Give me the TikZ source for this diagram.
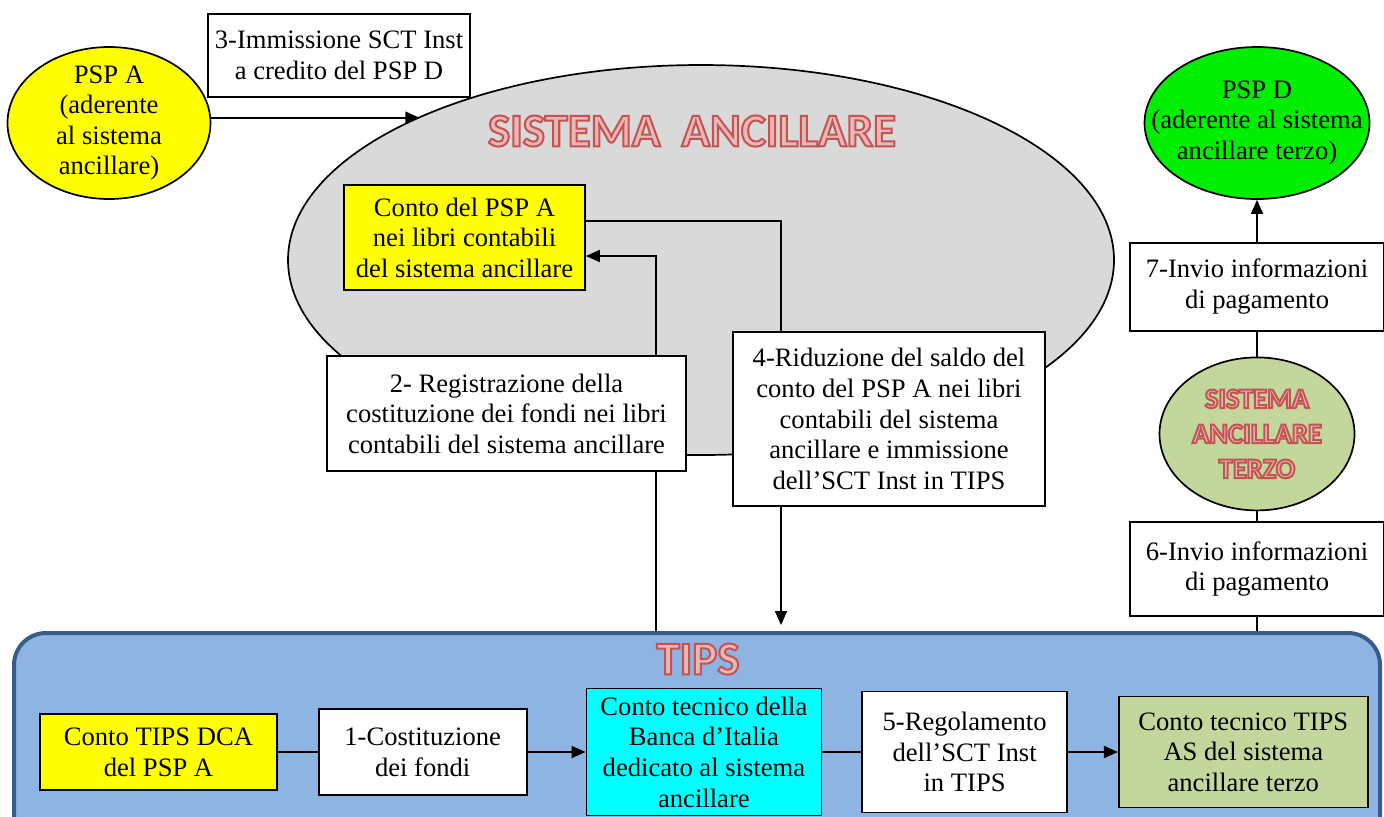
\documentclass[tikz,border=0pt]{standalone}
\usepackage{fontspec}
\setmainfont{Liberation Serif}
\newfontfamily\titlefont{Carlito}
\usepackage{tikz}
\usetikzlibrary{arrows.meta, positioning, shapes.geometric}
\definecolor{ancgray}{RGB}{217, 217, 217}
\definecolor{pspyellow}{RGB}{255, 255, 0}
\definecolor{pspgreen}{RGB}{0, 238, 0}
\definecolor{olive}{RGB}{195, 214, 155}
\definecolor{aqua}{RGB}{0, 255, 255}
\definecolor{tipsblue}{RGB}{142, 180, 227}
\definecolor{tipsedge}{RGB}{56, 93, 138}
\definecolor{titlepink}{RGB}{235, 182, 182}
\newcommand{\hollow}[1]{\special{pdf:code 2 Tr 0.76 0.33 0.32 RG 1 w}#1\special{pdf:code 0 Tr 0 0 0 RG}}

\begin{document}
\begin{tikzpicture}[
                x = 0.5pt, y = -0.5pt, % pixel grid
                > = {Triangle[length=7pt, width=6pt]}, % arrow head style
                node distance = 20pt,
                line width = 0.85pt,
                font = \fontsize{13.3}{15.3}\selectfont
                ]
                \tikzstyle{box}=[draw, fill=white, align=center, inner sep=1pt]
                \tikzstyle{oval}=[draw, ellipse, align=center, inner sep=0pt]
                \tikzstyle{title}=[align=center, text=titlepink,
                    font=\titlefont\bfseries\fontsize{23.5}{25}\selectfont]

                \useasboundingbox (0,0) rectangle (1384,816);

                % sistema ancillare
                \node[oval, fill=ancgray, minimum width=413pt, minimum height=195pt] (anc) at (701,260) {};
                \node[oval, fill=pspyellow, minimum width=101.5pt, minimum height=76pt,
                    inner ysep=-2.5pt] (pspa) at (109,123) {PSP A\\(aderente\\al sistema\\ancillare)};
                \node[box, minimum width=131pt, minimum height=41.5pt] (box3) at (339,55.5)
                    {3-Immissione SCT Inst\\a credito del PSP D};
                \node[box, fill=pspyellow, minimum width=120.5pt, minimum height=52.5pt] (acct) at (464.5,237.5)
                    {Conto del PSP A\\nei libri contabili\\del sistema ancillare};
                \node[box, minimum width=179.5pt, minimum height=57.5pt] (box2) at (506.5,413.5)
                    {2- Registrazione della\\costituzione dei fondi nei libri\\contabili del sistema ancillare};
                \node[box, minimum width=156pt, minimum height=87pt] (box4) at (889,419)
                    {4-Riduzione del saldo del\\conto del PSP A nei libri\\contabili del sistema\\ancillare e immissione\\dell'SCT Inst in TIPS};

                % TIPS
                \node[draw=tipsedge, fill=tipsblue, line width=2pt, rounded corners=16pt,
                    minimum width=683pt, minimum height=110pt] (tips) at (697,743) {};
                \node[box, fill=pspyellow, minimum width=118.5pt, minimum height=38pt] (dca) at (158.5,752)
                    {Conto TIPS DCA\\del PSP A};
                \node[box, minimum width=104pt, minimum height=43pt, right=20pt of dca] (cost)
                    {1-Costituzione\\dei fondi};
                \node[box, fill=aqua, minimum width=117.5pt, minimum height=63.5pt, right=29pt of cost] (tecn)
                    {Conto tecnico della\\Banca d'Italia\\dedicato al sistema\\ancillare};
                \node[box, minimum width=102.5pt, minimum height=60.5pt, right=19.5pt of tecn] (regol)
                    {5-Regolamento\\dell'SCT Inst\\in TIPS};
                \node[box, fill=olive, minimum width=124.5pt, minimum height=55.5pt, right=25pt of regol] (tecas)
                    {Conto tecnico TIPS\\AS del sistema\\ancillare terzo};

                % sistema ancillare terzo
                \node[oval, fill=pspgreen, minimum width=112.5pt, minimum height=76pt,
                    inner xsep=-14pt] (pspd) at (1257,123) {PSP D\\(aderente al sistema\\ancillare terzo)};
                \node[box, minimum width=127pt, minimum height=44pt, below=21pt of pspd] (box7)
                    {7-Invio informazioni\\di pagamento};
                \node[oval, fill=olive, minimum width=97.5pt, minimum height=76.5pt, below=12.5pt of box7,
                    text=titlepink, font=\titlefont\bfseries\fontsize{14.2}{17.5}\selectfont] (terzo)
                    {\hollow{SISTEMA}\\\hollow{ANCILLARE}\\\hollow{TERZO}};
                \node[box, minimum width=127pt, minimum height=47pt, below=5pt of terzo] (box6)
                    {6-Invio informazioni\\di pagamento};

                \coordinate (riser) at (656,0);
                \coordinate (drop) at (781,0);

                \path[->] (pspa.3) edge (anc.153 |- pspa.3);
                \draw[->] (box2.north -| riser) |- ([yshift=-9.25pt]acct.east);
                \draw (tips.north -| riser) -- (box2.south -| riser);
                \draw ([yshift=8.25pt]acct.east) -| (box4.north -| drop);
                \draw[->] (box4.south -| drop) -- ([yshift=3pt]tips.north -| drop);

                \path (dca) edge (cost);
                \path[->] (cost) edge (tecn);
                \path (tecn) edge (regol);
                \path[->] (regol) edge (tecas);

                \draw (tips.north -| box6.south) -- (box6.south);
                \path (box6) edge (terzo);
                \path (terzo) edge (box7);
                \path[->] (box7) edge (pspd);

                \node[title] (anctitle) at (692,131) {\hollow{SISTEMA\ \ ANCILLARE}};
                \node[title] (tipstitle) at (698,659) {\hollow{TIPS}};
\end{tikzpicture}
\end{document}
